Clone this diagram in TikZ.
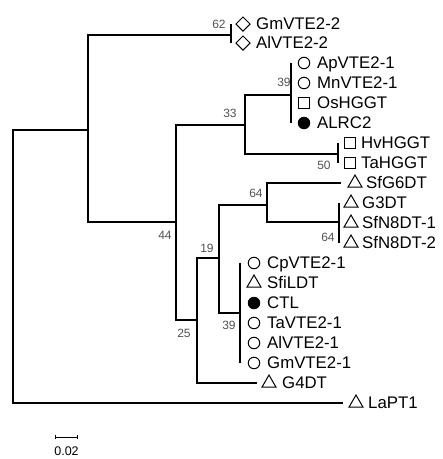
\documentclass[tikz,border=0pt]{standalone}
\usepackage{fontspec}
\setmainfont{Liberation Sans}
\usetikzlibrary{shapes.geometric,arrows.meta}
\tikzset{
  br/.style={line width=1.25pt, black},
  sym/.style={draw, line width=1pt, inner sep=0pt},
  ocirc/.style={sym, circle, minimum size=11.5pt},
  fcirc/.style={circle, fill=black, inner sep=0pt, minimum size=12.5pt},
  osq/.style={sym, rectangle, minimum size=11pt},
  odia/.style={sym, diamond, minimum size=14.5pt},
  otri/.style={sym, regular polygon, regular polygon sides=3, minimum size=16pt},
  leaf/.style={anchor=west, inner sep=0pt, text height=11.8pt, text depth=0pt, font=\fontsize{16.8}{16.8}\selectfont},
  boot/.style={inner sep=0pt, text=black!68, font=\fontsize{12}{12}\selectfont}
}
\begin{document}
\begin{tikzpicture}[x=1pt,y=-1pt]
\useasboundingbox (0,0) rectangle (443,459);
% internal nodes
\coordinate (root) at (13,266);
\coordinate (nA) at (88,130);
\coordinate (nB) at (231,35);
\coordinate (nC) at (176,222);
\coordinate (nD) at (245,125);
\coordinate (nE) at (291,95);
\coordinate (nF) at (338,154);
\coordinate (nG) at (197,320);
\coordinate (nH) at (219,258);
\coordinate (nI) at (267,205);
\coordinate (nJ) at (339,222);
\coordinate (nK) at (240,313);
\coordinate (tSfG) at (341,183);
\coordinate (tG4) at (257,383);
\coordinate (tLa) at (343,403);
% leaf symbols
\node[odia] (sGm2) at (243,24) {};
\node[odia] (sAl2) at (243,43) {};
\node[ocirc] (sAp) at (304,63) {};
\node[ocirc] (sMn) at (304,83) {};
\node[osq] (sOs) at (304,103) {};
\node[fcirc] (sAL) at (304,123) {};
\node[osq] (sHv) at (350,143) {};
\node[osq] (sTa) at (350,163) {};
\node[otri] (sSfG) at (355,183) {};
\node[otri] (sG3) at (351,203) {};
\node[otri] (sN1) at (351,223) {};
\node[otri] (sN2) at (351,243) {};
\node[ocirc] (sCp) at (254,263) {};
\node[otri] (sSfi) at (254,283) {};
\node[fcirc] (sCTL) at (254,303) {};
\node[ocirc] (sTaV) at (254,323) {};
\node[ocirc] (sAlV) at (254,343) {};
\node[ocirc] (sGmV) at (254,363) {};
\node[otri] (sG4) at (269,383) {};
\node[otri] (sLa) at (356,403) {};
% leaf labels
\node[leaf] (lGm2) at (256,24) {GmVTE2-2};
\node[leaf] (lAl2) at (256,43) {AlVTE2-2};
\node[leaf] (lAp) at (317,63) {ApVTE2-1};
\node[leaf] (lMn) at (317,83) {MnVTE2-1};
\node[leaf] (lOs) at (317,103) {OsHGGT};
\node[leaf] (lAL) at (317,123) {ALRC2};
\node[leaf] (lHv) at (361,143) {HvHGGT};
\node[leaf] (lTa) at (361,163) {TaHGGT};
\node[leaf] (lSfG) at (366,183) {SfG6DT};
\node[leaf] (lG3) at (362,203) {G3DT};
\node[leaf] (lN1) at (362,223) {SfN8DT-1};
\node[leaf] (lN2) at (362,243) {SfN8DT-2};
\node[leaf] (lCp) at (267,263) {CpVTE2-1};
\node[leaf] (lSfi) at (267,283) {SfiLDT};
\node[leaf] (lCTL) at (267,303) {CTL};
\node[leaf] (lTaV) at (267,323) {TaVTE2-1};
\node[leaf] (lAlV) at (267,343) {AlVTE2-1};
\node[leaf] (lGmV) at (267,363) {GmVTE2-1};
\node[leaf] (lG4) at (282,383) {G4DT};
\node[leaf] (lLa) at (368,403) {LaPT1};
% branches
\draw[br] (nA) -| (root) |- (tLa);
\draw[br] (nB) -| (nA) |- (nC);
\draw[br] (nD) -| (nC) |- (nG);
\draw[br] (nE) -| (nD) |- (nF);
\draw[br] (nI) -| (nH) |- (nK);
\draw[br] (nH) -| (nG) |- (tG4);
\draw[br] (tSfG) -| (nI) |- (nJ);
\draw[br] (nB |- sGm2) -- (nB |- sAl2);
\draw[br] (nE |- sAp) -- (nE |- sAL);
\draw[br] (nF |- sHv) -- (nF |- sTa);
\draw[br] (nJ |- sG3) -- (nJ |- sN2);
\draw[br] (nK |- sCp) -- (nK |- sGmV);
% bootstrap values
\node[boot] (b62) at (219,24) {62};
\node[boot] (b39a) at (284,82) {39};
\node[boot] (b33) at (230,113) {33};
\node[boot] (b50) at (324,165) {50};
\node[boot] (b64a) at (256,193) {64};
\node[boot] (b64b) at (328,237) {64};
\node[boot] (b44) at (165,235) {44};
\node[boot] (b19) at (207,248) {19};
\node[boot] (b39b) at (229,325) {39};
\node[boot] (b25) at (184,333) {25};
% scale bar
\coordinate (sb1) at (55,437);
\coordinate (sb2) at (78,437);
\draw[line width=1pt, {Bar[width=4pt]}-{Bar[width=4pt]}] (sb1) -- (sb2);
\node[boot, text=black, font=\fontsize{12.5}{12.5}\selectfont] (sbl) at (66.5,451) {0.02};
\end{tikzpicture}
\end{document}
